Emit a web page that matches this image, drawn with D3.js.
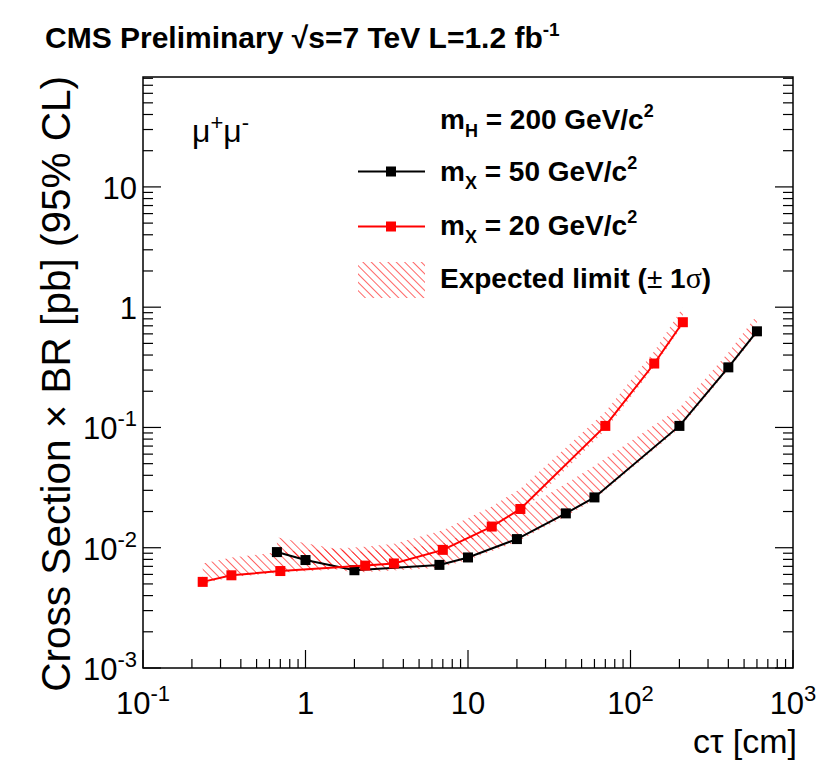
<!DOCTYPE html>
<html>
<head>
<meta charset="utf-8">
<script src="https://d3js.org/d3.v7.min.js"></script>
<style>
  body { margin: 0; background: #fff; }
  text { font-family: "Liberation Sans", Arial, sans-serif; }
</style>
</head>
<body>
<div id="chart"></div>
<script>
// ---- data ----
const ctauX50 = [0.667, 1, 2, 6.67, 10, 20, 40, 60, 200, 400, 600];
const limitX50 = [0.0092, 0.0079, 0.0065, 0.0072, 0.0083, 0.0118, 0.0193, 0.0262, 0.103, 0.316, 0.63];
const expLoX50 = [0.0087, 0.0075, 0.0062, 0.0068, 0.0079, 0.0112, 0.0183, 0.025, 0.098, 0.30, 0.60];
const expHiX50 = [0.0122, 0.0109, 0.0092, 0.0106, 0.0133, 0.0195, 0.034, 0.048, 0.145, 0.42, 0.86];

const ctauX20 = [0.233, 0.35, 0.7, 2.33, 3.5, 7, 14, 21, 70, 140, 210];
const limitX20 = [0.0052, 0.0059, 0.0064, 0.0071, 0.0074, 0.0096, 0.015, 0.021, 0.103, 0.34, 0.75];
const expLoX20 = [0.0050, 0.0057, 0.0062, 0.0068, 0.0071, 0.0090, 0.0138, 0.019, 0.095, 0.32, 0.71];
const expHiX20 = [0.0074, 0.0083, 0.0092, 0.0102, 0.0108, 0.0140, 0.022, 0.031, 0.135, 0.43, 1.0];

const xTicks = [0.1, 1, 10, 100, 1000];
const xTickLabels = [["10", "-1"], ["1", ""], ["10", ""], ["10", "2"], ["10", "3"]];
const yTicks = [0.001, 0.01, 0.1, 1, 10];
const yTickLabels = [["10", "-3"], ["10", "-2"], ["10", "-1"], ["1", ""], ["10", ""]];

// ---- layout ----
const width = 820, height = 762;
const margin = { top: 77, right: 27, bottom: 94, left: 143 };

const svg = d3.select("#chart").append("svg")
    .attr("width", width)
    .attr("height", height);

const x = d3.scaleLog()
    .domain([0.1, 1000])
    .range([margin.left, width - margin.right]);

const y = d3.scaleLog()
    .domain([0.001, 82])
    .range([height - margin.bottom, margin.top]);

// hatch pattern for the expected band
svg.append("defs").append("pattern")
    .attr("id", "hatch")
    .attr("patternUnits", "userSpaceOnUse")
    .attr("width", 5.9)
    .attr("height", 5.9)
    .attr("patternTransform", "rotate(-45)")
    .append("line")
    .attr("x1", 0).attr("y1", 0)
    .attr("x2", 0).attr("y2", 5.9)
    .attr("stroke", "#ff0000")
    .attr("stroke-width", 1.2);

const plot = svg.append("g");

// bands
const band = d3.area()
    .x(d => x(d.x))
    .y0(d => y(d.lo))
    .y1(d => y(d.hi));

const band50 = ctauX50.map((v, i) => ({ x: v, lo: expLoX50[i], hi: expHiX50[i] }));
const band20 = ctauX20.map((v, i) => ({ x: v, lo: expLoX20[i], hi: expHiX20[i] }));

plot.append("path").attr("d", band(band50)).attr("fill", "url(#hatch)");
plot.append("path").attr("d", band(band20)).attr("fill", "url(#hatch)");

// observed limits
const line = d3.line().x(d => x(d.x)).y(d => y(d.y));

function drawSeries(xs, ys, color) {
    const pts = xs.map((v, i) => ({ x: v, y: ys[i] }));
    plot.append("path")
        .attr("d", line(pts))
        .attr("fill", "none")
        .attr("stroke", color)
        .attr("stroke-width", 2);
    plot.selectAll(null)
        .data(pts)
        .enter()
        .append("rect")
        .attr("x", d => x(d.x) - 5)
        .attr("y", d => y(d.y) - 5)
        .attr("width", 10)
        .attr("height", 10)
        .attr("fill", color);
}
drawSeries(ctauX50, limitX50, "#000000");
drawSeries(ctauX20, limitX20, "#ff0000");

// frame
const x0 = margin.left, x1 = width - margin.right;
const y0 = height - margin.bottom, y1 = margin.top;
svg.append("rect")
    .attr("x", x0).attr("y", y1)
    .attr("width", x1 - x0).attr("height", y0 - y1)
    .attr("fill", "none")
    .attr("stroke", "#000")
    .attr("stroke-width", 1.5);

// ticks
const ticksG = svg.append("g").attr("stroke", "#000").attr("stroke-width", 1.2);
function minorList(domain) {
    const out = [];
    for (let e = Math.floor(Math.log10(domain[0])); e <= Math.ceil(Math.log10(domain[1])); e++) {
        for (let k = 1; k < 10; k++) {
            const v = k * Math.pow(10, e);
            if (v >= domain[0] * 0.999 && v <= domain[1] * 1.001) out.push({ v: v, major: k === 1 });
        }
    }
    return out;
}
minorList(x.domain()).forEach(t => {
    const len = t.major ? 18 : 9;
    ticksG.append("line")
        .attr("x1", x(t.v)).attr("x2", x(t.v))
        .attr("y1", y0).attr("y2", y0 - len);
});
minorList(y.domain()).forEach(t => {
    const len = t.major ? 18 : 10;
    ticksG.append("line")
        .attr("x1", x0).attr("x2", x0 + len)
        .attr("y1", y(t.v)).attr("y2", y(t.v));
    ticksG.append("line")
        .attr("x1", x1).attr("x2", x1 - len)
        .attr("y1", y(t.v)).attr("y2", y(t.v));
});

// tick labels
function supLabel(g, base, exp) {
    g.append("tspan").text(base);
    if (exp) {
        g.append("tspan")
            .attr("font-size", "22px")
            .attr("dy", -13)
            .text(exp);
    }
}
xTicks.forEach((v, i) => {
    const t = svg.append("text")
        .attr("x", x(v))
        .attr("y", 714)
        .attr("text-anchor", "middle")
        .attr("font-size", "31px");
    supLabel(t, xTickLabels[i][0], xTickLabels[i][1]);
});
yTicks.forEach((v, i) => {
    const t = svg.append("text")
        .attr("x", 137)
        .attr("y", y(v) + 12)
        .attr("text-anchor", "end")
        .attr("font-size", "31px");
    supLabel(t, yTickLabels[i][0], yTickLabels[i][1]);
});

// axis titles
svg.append("text")
    .attr("x", 797)
    .attr("y", 753)
    .attr("text-anchor", "end")
    .attr("font-size", "34px")
    .text("cτ [cm]");

svg.append("text")
    .attr("transform", "translate(70,76) rotate(-90)")
    .attr("text-anchor", "end")
    .attr("font-size", "40.5px")
    .text("Cross Section × BR [pb] (95% CL)");

// header
const head = svg.append("text")
    .attr("x", 45)
    .attr("y", 48)
    .attr("font-size", "30px")
    .attr("font-weight", "bold");
head.append("tspan").text("CMS Preliminary  √s=7 TeV L=1.2 fb");
head.append("tspan").attr("font-size", "19px").attr("dy", -12).text("-1");

// channel label
const chan = svg.append("text")
    .attr("x", 192)
    .attr("y", 142)
    .attr("font-family", "Liberation Serif, serif")
    .attr("font-size", "32px");
chan.append("tspan").text("μ");
chan.append("tspan").attr("font-size", "22px").attr("dy", -12).text("+");
chan.append("tspan").attr("dy", 12).text("μ");
chan.append("tspan").attr("font-size", "22px").attr("dy", -12).text("-");

// legend
const legend = svg.append("g").attr("font-weight", "bold").attr("font-size", "28px");
function legendText(yb, main, sub, rest) {
    const t = legend.append("text").attr("x", 440).attr("y", yb);
    t.append("tspan").text(main);
    t.append("tspan").attr("font-size", "18px").attr("dy", 8).text(sub);
    t.append("tspan").attr("dy", -8).text(rest);
    t.append("tspan").attr("font-size", "18px").attr("dy", -12).text("2");
}
legendText(129, "m", "H", " = 200 GeV/c");
legendText(181, "m", "X", " = 50 GeV/c");
legendText(235, "m", "X", " = 20 GeV/c");
const exp = legend.append("text").attr("x", 440).attr("y", 288);
exp.append("tspan").text("Expected limit (");
exp.append("tspan").attr("font-weight", "normal").text("±");
exp.append("tspan").text(" 1");
exp.append("tspan").attr("font-family", "Liberation Serif, serif").attr("font-weight", "normal").attr("font-size", "30px").text("σ");
exp.append("tspan").text(")");

[{ yy: 171.5, c: "#000000" }, { yy: 226.5, c: "#ff0000" }].forEach(e => {
    legend.append("line")
        .attr("x1", 358).attr("x2", 425)
        .attr("y1", e.yy).attr("y2", e.yy)
        .attr("stroke", e.c).attr("stroke-width", 2);
    legend.append("rect")
        .attr("x", 386).attr("y", e.yy - 5)
        .attr("width", 10).attr("height", 10)
        .attr("fill", e.c);
});
legend.append("rect")
    .attr("x", 358).attr("y", 262)
    .attr("width", 67).attr("height", 36)
    .attr("fill", "url(#hatch)");
</script>
</body>
</html>
